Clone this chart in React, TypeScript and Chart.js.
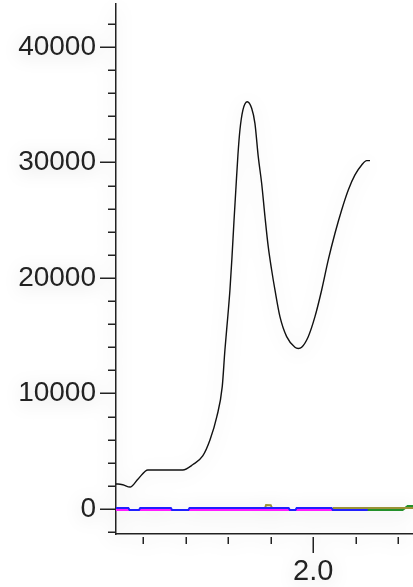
import React, { useEffect, useRef } from "react";
import { Chart, registerables } from "chart.js";

Chart.register(...registerables);

// Main trace (x, intensity)
const mainX = [
  1.536, 1.5405, 1.552, 1.569, 1.588, 1.611, 1.651, 1.693, 1.717, 1.74, 1.757, 1.773,
  1.7859, 1.7922, 1.7993, 1.804, 1.8087, 1.8134, 1.8181, 1.8228, 1.8275, 1.8346, 1.8447,
  1.8551, 1.8628, 1.8706, 1.8786, 1.8864, 1.8941, 1.9021, 1.9099, 1.9216, 1.9374,
  1.9569, 1.9648, 1.9727, 1.9882, 2.004, 2.0198, 2.0353, 2.0511, 2.0668, 2.0824, 2.0981,
  2.1139, 2.1256, 2.1334,
];
const mainY = [
  2160, 2160, 2100, 1900, 2600, 3380, 3380, 3380, 3850, 4590, 5970, 7970,
  10590, 13770, 16800, 18960, 21730, 24850, 27790, 30650, 32810, 34550, 35260,
  34690, 33390, 30500, 28200, 25310, 22710, 20690, 18960, 16650, 14920,
  14000, 13900, 14000, 14920, 16650, 18960, 21560, 23870, 25890, 27620, 28920,
  29780, 30160, 30160,
];

// Baseline traces near zero
const blueX = [1.536, 1.565, 1.568, 1.59, 1.593, 1.665, 1.668, 1.706, 1.709, 1.942, 1.945, 1.958, 1.961, 2.043, 2.046, 2.128];
const blueY = [90, 90, -90, -90, 90, 90, -90, -90, 90, 90, -90, -90, 90, 90, -90, -90];

const magentaX = [1.536, 2.045];
const magentaY = [-90, -90];

const greenX = [1.812, 2.21, 2.222, 2.2346];
const greenY = [-90, -90, 250, 250];

const oliveX = [1.853, 1.885, 1.889, 1.9, 1.905, 1.96, 1.963, 1.975, 1.978, 2.045, 2.048, 2.2346];
const oliveY = [-90, -90, 350, 330, -90, -90, 90, 90, -90, -90, 90, 90];

// Axis ticks
const yTickValues = [-2000, 0, 2000, 4000, 6000, 8000, 10000, 12000, 14000, 16000, 18000, 20000, 22000, 24000, 26000, 28000, 30000, 32000, 34000, 36000, 38000, 40000, 42000];
const yLabelValues = [0, 10000, 20000, 30000, 40000];
const xTickValues = [1.6, 1.7, 1.8, 1.9, 2.0, 2.1, 2.2];
const xLabelValues = [2.0];

const toPoints = (xs: number[], ys: number[]) => xs.map((x, i) => ({ x, y: ys[i] }));
const isLabel = (list: number[], v: number) => list.some((l) => Math.abs(l - v) < 1e-6);

const AXIS_COLOR = "#222";
const FONT = '"Liberation Sans", Arial, sans-serif';

const tickMarks = {
  id: "tickMarks",
  afterDraw(chart: any) {
    const { ctx, scales, chartArea } = chart;
    ctx.save();
    ctx.strokeStyle = AXIS_COLOR;
    ctx.lineWidth = 1.5;
    ctx.beginPath();
    for (const v of yTickValues) {
      const py = Math.round(scales.y.getPixelForValue(v)) + 0.25;
      const len = isLabel(yLabelValues, v) ? 16 : 8;
      ctx.moveTo(chartArea.left - len, py);
      ctx.lineTo(chartArea.left, py);
    }
    for (const v of xTickValues) {
      const px = Math.round(scales.x.getPixelForValue(v)) + 0.25;
      const len = isLabel(xLabelValues, v) ? 16 : 7;
      ctx.moveTo(px, chartArea.bottom + 3);
      ctx.lineTo(px, chartArea.bottom + 3 + len);
    }
    ctx.stroke();
    ctx.restore();
  },
};

export default function App() {
  const ref = useRef<HTMLCanvasElement>(null);

  useEffect(() => {
    if (!ref.current) return;
    const chart = new Chart(ref.current, {
      type: "line",
      data: {
        datasets: [
          { data: toPoints(mainX, mainY), borderColor: "#111", borderWidth: 1.4, cubicInterpolationMode: "monotone" },
          { data: toPoints(blueX, blueY), borderColor: "#1f1fff", borderWidth: 2 },
          { data: toPoints(magentaX, magentaY), borderColor: "#ff1aff", borderWidth: 2 },
          { data: toPoints(oliveX, oliveY), borderColor: "#9a9236", borderWidth: 2 },
          { data: toPoints(greenX, greenY), borderColor: "#23902a", borderWidth: 2 },
        ],
      },
      options: {
        animation: false,
        responsive: true,
        maintainAspectRatio: false,
        layout: { padding: { top: 4, right: 0, left: 0, bottom: 0 } },
        elements: { point: { radius: 0 }, line: { tension: 0 } },
        plugins: { legend: { display: false }, tooltip: { enabled: false } },
        scales: {
          x: {
            type: "linear",
            min: 1.536,
            max: 2.2346,
            grid: { display: false, drawTicks: false },
            border: { display: true, color: AXIS_COLOR, width: 1.5 },
            afterBuildTicks: (scale: any) => {
              scale.ticks = xTickValues.map((value) => ({ value }));
            },
            afterFit: (scale: any) => {
              scale.height = 53;
              scale.paddingLeft = 0;
              scale.paddingRight = 0;
            },
            ticks: {
              autoSkip: false,
              maxRotation: 0,
              padding: 21,
              color: "#222",
              font: { family: FONT, size: 29 },
              callback: (v: any) => (isLabel(xLabelValues, Number(v)) ? Number(v).toFixed(1) : ""),
            },
          },
          y: {
            type: "linear",
            min: -2165,
            max: 43720,
            grid: { display: false, drawTicks: false },
            border: { display: true, color: AXIS_COLOR, width: 1.5 },
            afterBuildTicks: (scale: any) => {
              scale.ticks = yTickValues.map((value) => ({ value }));
            },
            afterFit: (scale: any) => {
              scale.width = 116;
              scale.paddingTop = 0;
              scale.paddingBottom = 0;
            },
            ticks: {
              autoSkip: false,
              padding: 20,
              color: "#222",
              font: { family: FONT, size: 28 },
              callback: (v: any) => (isLabel(yLabelValues, Number(v)) ? String(v) : ""),
            },
          },
        },
      },
      plugins: [tickMarks],
    });
    return () => chart.destroy();
  }, []);

  return (
    <div style={{ position: "fixed", left: 0, top: 0, width: 413, height: 587, background: "#fff" }}>
      <canvas ref={ref} style={{ filter: "drop-shadow(0px 3px 9px rgba(0,0,0,0.16))" }} />
    </div>
  );
}
